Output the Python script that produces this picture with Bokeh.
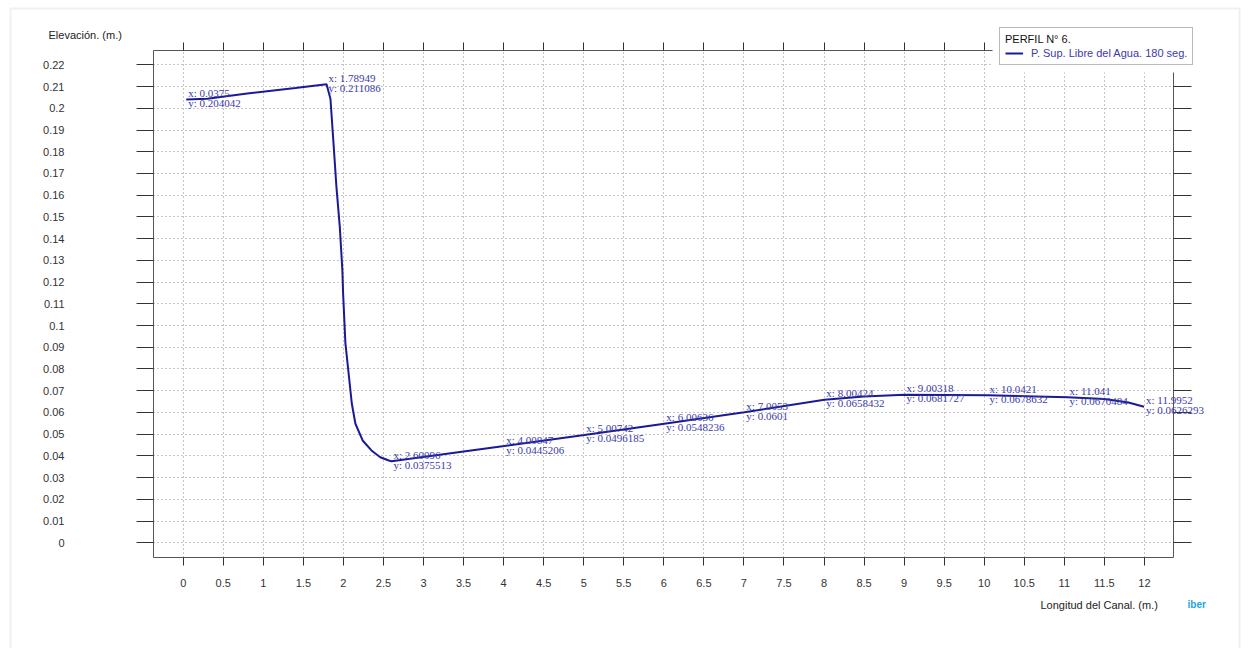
from bokeh.plotting import figure
from bokeh.models import (Range1d, LinearAxis, FixedTicker, Label, LabelSet,
                          ColumnDataSource, Legend, LegendItem, BoxAnnotation)
from bokeh.embed import file_html
from bokeh.resources import INLINE
from bokeh.core.properties import value

# ---- data -------------------------------------------------------------
profile_x = [0.0375, 0.3, 0.8, 1.4, 1.78949, 1.838, 1.871, 1.913, 1.955, 1.987,
             1.996, 2.025, 2.07, 2.105, 2.15, 2.24, 2.35, 2.46, 2.567, 2.60096,
             4.00847, 5.00742, 6.00636, 7.0053, 8.00424, 8.5, 9.00318, 10.0421,
             11.041, 11.5, 11.8, 11.9952]
profile_y = [0.204042, 0.2044, 0.2068, 0.2093, 0.211086, 0.2044, 0.1867, 0.1637,
             0.1453, 0.1254, 0.1148, 0.0918, 0.0762, 0.064, 0.0548, 0.0471, 0.0425,
             0.0394, 0.0379, 0.0375513, 0.0445206, 0.0496185, 0.0548236, 0.0601,
             0.0658432, 0.0673, 0.0681727, 0.0678632, 0.0670484, 0.0662, 0.0646,
             0.0626293]

ann_x = [0.0375, 1.78949, 2.60096, 4.00847, 5.00742, 6.00636, 7.0053, 8.00424,
         9.00318, 10.0421, 11.041, 11.9952]
ann_y = [0.204042, 0.211086, 0.0375513, 0.0445206, 0.0496185, 0.0548236, 0.0601,
         0.0658432, 0.0681727, 0.0678632, 0.0670484, 0.0626293]

x_tick_labels = ["0", "0.5", "1", "1.5", "2", "2.5", "3", "3.5", "4", "4.5", "5",
                 "5.5", "6", "6.5", "7", "7.5", "8", "8.5", "9", "9.5", "10",
                 "10.5", "11", "11.5", "12"]
y_tick_labels = ["0", "0.01", "0.02", "0.03", "0.04", "0.05", "0.06", "0.07",
                 "0.08", "0.09", "0.1", "0.11", "0.12", "0.13", "0.14", "0.15",
                 "0.16", "0.17", "0.18", "0.19", "0.2", "0.21", "0.22"]

legend_title = "PERFIL N° 6."
series_name = "P. Sup. Libre del Agua. 180 seg."
x_title = "Longitud del Canal.  (m.)"
y_title = "Elevación.  (m.)"
logo_text = "iber"

# ---- layout constants (pixels) ----------------------------------------
W, H = 1244, 648
FL, FR, FT, FB = 153, 1173, 50, 557
X0, X1 = -0.371, 12.363
Y0, Y1 = -0.00677, 0.2266
SX = (FR - FL) / (X1 - X0)
SY = (FB - FT) / (Y1 - Y0)


def px_x(px):
    return X0 + (px - FL) / SX


def px_y(py):
    return Y0 + (FB - py) / SY


xt = [float(s) for s in x_tick_labels]
yt = [float(s) for s in y_tick_labels]

LINE = "#1a1a96"
ANN = "#3a3aac"
SANS = "Liberation Sans"
SERIF = "Liberation Serif"
PIN = {"position": "absolute", "top": "0px", "left": "0px"}

# ---- main figure: frame, axes, grid -----------------------------------
p = figure(width=W, height=H, output_backend="svg", toolbar_location=None,
           x_range=Range1d(X0, X1), y_range=Range1d(Y0, Y1),
           min_border_left=FL, min_border_right=W - FR, min_border_top=FT,
           min_border_bottom=H - FB)
p.styles = dict(PIN)
p.background_fill_color = "white"
p.border_fill_color = "white"
p.outline_line_color = "#555555"
p.outline_line_width = 1

xa = p.xaxis[0]
ya = p.yaxis[0]
xa.ticker = FixedTicker(ticks=xt)
ya.ticker = FixedTicker(ticks=yt)
xa.major_label_overrides = {v: s for v, s in zip(xt, x_tick_labels)}
ya.major_label_overrides = {v: s for v, s in zip(yt, y_tick_labels)}
for ax, tout, stand in ((xa, 8, 13), (ya, 17, 72)):
    ax.axis_line_color = None
    ax.major_tick_in = 0
    ax.major_tick_out = tout
    ax.major_tick_line_color = "#333333"
    ax.minor_tick_line_color = None
    ax.major_label_text_font = SANS
    ax.major_label_text_font_size = "11px"
    ax.major_label_text_color = "#333333"
    ax.major_label_standoff = stand

top = LinearAxis(ticker=FixedTicker(ticks=xt), major_tick_in=0, major_tick_out=8,
                 axis_line_color=None, minor_tick_line_color=None,
                 major_tick_line_color="#333333", major_label_text_color=None,
                 major_label_standoff=0)
right = LinearAxis(ticker=FixedTicker(ticks=yt), major_tick_in=0, major_tick_out=18,
                   axis_line_color=None, minor_tick_line_color=None,
                   major_tick_line_color="#333333", major_label_text_color=None,
                   major_label_standoff=0)
p.add_layout(top, "above")
p.add_layout(right, "right")

for g in (p.xgrid[0], p.ygrid[0]):
    g.grid_line_color = "#8a8a8a"
    g.grid_line_dash = "1 3"
    g.grid_line_width = 1

# ---- overlay figure (same scale): line, labels, legend -----------------
ov = figure(width=W, height=H, output_backend="svg", toolbar_location=None,
            x_range=Range1d(px_x(0), px_x(W)), y_range=Range1d(px_y(H), px_y(0)),
            x_axis_location=None, y_axis_location=None, min_border=0)
ov.styles = dict(PIN)
ov.background_fill_alpha = 0
ov.border_fill_alpha = 0
ov.outline_line_color = None
ov.xgrid.visible = False
ov.ygrid.visible = False

# light page border
ov.add_layout(BoxAnnotation(left=px_x(10), right=px_x(1239), top=px_y(8),
                            bottom=px_y(H + 20), fill_alpha=0,
                            line_color="#cccccc", line_width=2))
# white area behind the legend
ov.add_layout(BoxAnnotation(left=px_x(992), right=px_x(1206), top=px_y(24),
                            bottom=px_y(72), fill_color="white", fill_alpha=1,
                            line_color=None))

r = ov.line(profile_x, profile_y, line_color=LINE, line_width=2)

src = ColumnDataSource(dict(x=ann_x, y=ann_y,
                            tx=["x: " + str(v) for v in ann_x],
                            ty=["y: " + str(v) for v in ann_y]))
ov.add_layout(LabelSet(x="x", y="y", text="tx", source=src, x_offset=2, y_offset=6.5,
                       text_font=value(SERIF), text_font_size=value("11px"),
                       text_color=ANN, text_baseline="middle"))
ov.add_layout(LabelSet(x="x", y="y", text="ty", source=src, x_offset=2, y_offset=-3.5,
                       text_font=value(SERIF), text_font_size=value("11px"),
                       text_color=ANN, text_baseline="middle"))

ov.add_layout(Label(x=px_x(48), y=px_y(34), text=y_title, text_font=SANS,
                    text_font_size="11px", text_color="#222222",
                    text_baseline="middle", text_align="left"))
ov.add_layout(Label(x=px_x(1040), y=px_y(604), text=x_title, text_font=SANS,
                    text_font_size="11px", text_color="#222222",
                    text_baseline="middle", text_align="left"))
ov.add_layout(Label(x=px_x(1187), y=px_y(604), text=logo_text, text_font=SANS,
                    text_font_size="10px", text_font_style="bold",
                    text_color="#22a3e3", text_baseline="middle", text_align="left"))

legend = Legend(items=[LegendItem(label=series_name, renderers=[r])],
                title=legend_title, location=(999, H - 65),
                border_line_color="#777777", border_line_width=1.5,
                background_fill_color="white", background_fill_alpha=1,
                padding=5, spacing=0, margin=0,
                label_text_font=SANS, label_text_font_size="11px",
                label_text_color=ANN, title_text_font=SANS,
                title_text_font_size="11px", title_text_font_style="normal",
                title_text_color="#111111", title_standoff=2,
                glyph_width=18, glyph_height=12, label_standoff=8, label_height=12)
ov.add_layout(legend, "center")

open("out.html", "w").write(file_html([p, ov], INLINE))
